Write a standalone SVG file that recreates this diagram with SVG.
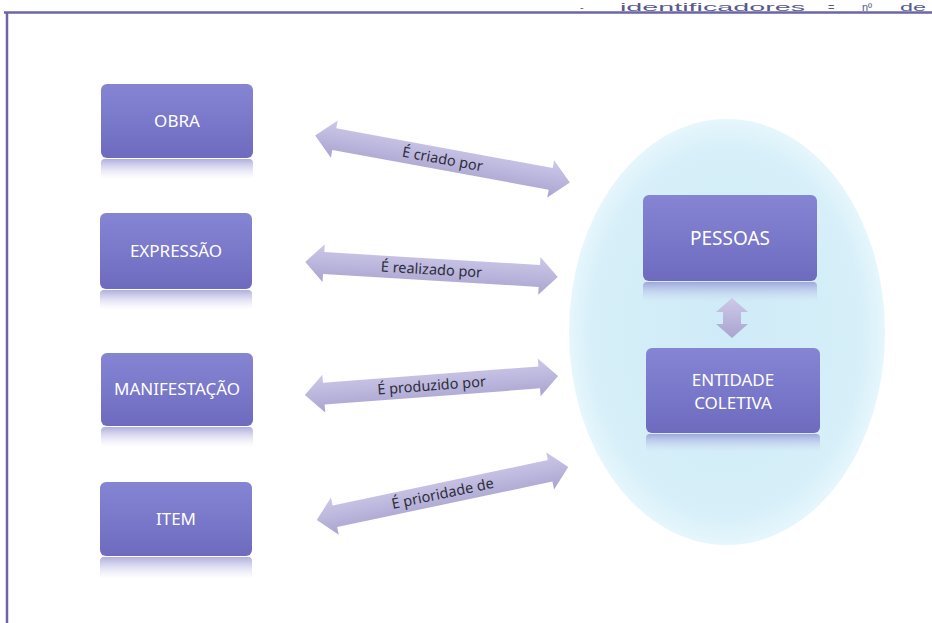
<svg xmlns="http://www.w3.org/2000/svg" width="932" height="623" viewBox="0 0 932 623">
<defs>
<linearGradient id="boxg" x1="0" y1="0" x2="0" y2="1">
<stop offset="0" stop-color="#8585d4"/>
<stop offset="1" stop-color="#6e6bbf"/>
</linearGradient>
<linearGradient id="refl" x1="0" y1="0" x2="0" y2="1">
<stop offset="0" stop-color="#7a78c8" stop-opacity="0.6"/>
<stop offset="1" stop-color="#c8c6ec" stop-opacity="0"/>
</linearGradient>
<linearGradient id="arrg" x1="0" y1="0" x2="0" y2="1">
<stop offset="0" stop-color="#cdc9e9"/>
<stop offset="1" stop-color="#aaa4d0"/>
</linearGradient>
<radialGradient id="ellg" cx="0.5" cy="0.5" r="0.5">
<stop offset="0" stop-color="#cfebf7"/>
<stop offset="0.85" stop-color="#d6eff9"/>
<stop offset="1" stop-color="#e6f6fc"/>
</radialGradient>
<style>
.box{fill:url(#boxg);}
.refl{fill:url(#refl);}
.lbl{font-family:"Noto Sans","Open Sans",sans-serif;font-size:17px;fill:#ffffff;text-anchor:middle;}
.arr{fill:url(#arrg);}
.alb{font-family:"Noto Sans","Open Sans",sans-serif;font-size:14.5px;fill:#2e2e3a;text-anchor:middle;}
.frame{stroke:#6c66a8;stroke-width:2.5;fill:none;}
.top{font-family:"Liberation Sans",sans-serif;font-size:11px;fill:#5a5a8a;}
</style>
</defs>
<rect width="932" height="623" fill="#ffffff"/>
<text class="top" y="10.5"><tspan x="580">-</tspan><tspan x="620" textLength="185" lengthAdjust="spacingAndGlyphs">identificadores</tspan><tspan x="828">=</tspan><tspan x="862">nº</tspan><tspan x="900" textLength="26" lengthAdjust="spacingAndGlyphs">de</tspan></text>
<path class="frame" d="M4,12.5 H932 M7,12.5 V623"/>

<g id="ellipse-group">
<ellipse cx="727" cy="332" rx="158" ry="213" fill="url(#ellg)"/>
</g>

<g id="connectors">
<g transform="translate(442.5,159) rotate(10.4)">
<path class="arr" d="M-129.5,0 L-110,-19 L-110,-11 L110,-11 L110,-19 L129.5,0 L110,19 L110,11 L-110,11 L-110,19 Z"/>
<text class="alb" x="0" y="5">É criado por</text>
</g>
<g transform="translate(431.5,269.5) rotate(3.4)">
<path class="arr" d="M-126.5,0 L-108,-19 L-108,-11 L108,-11 L108,-19 L126.5,0 L108,19 L108,11 L-108,11 L-108,19 Z"/>
<text class="alb" x="0" y="5">É realizado por</text>
</g>
<g transform="translate(431.5,385.5) rotate(-4.3)">
<path class="arr" d="M-127,0 L-108,-19 L-108,-11 L108,-11 L108,-19 L127,0 L108,19 L108,11 L-108,11 L-108,19 Z"/>
<text class="alb" x="0" y="5">É produzido por</text>
</g>
<g transform="translate(442.5,493.5) rotate(-11.9)">
<path class="arr" d="M-128.5,0 L-110,-19 L-110,-11 L110,-11 L110,-19 L128.5,0 L110,19 L110,11 L-110,11 L-110,19 Z"/>
<text class="alb" x="0" y="5">É prioridade de</text>
</g>
<path class="arr" d="M732,298 L748,312 L741,312 L741,324 L748,324 L732,338 L716,324 L723,324 L723,312 L716,312 Z"/>
</g>

<g id="obra">
<rect class="refl" x="101" y="159" width="152" height="20" rx="4"/>
<rect class="box" x="101" y="84" width="152" height="74" rx="6"/>
<text class="lbl" x="177" y="127">OBRA</text>
</g>
<g id="expressao">
<rect class="refl" x="100" y="290" width="152" height="20" rx="4"/>
<rect class="box" x="100" y="213" width="152" height="76" rx="6"/>
<text class="lbl" x="176" y="257">EXPRESSÃO</text>
</g>
<g id="manifestacao">
<rect class="refl" x="101" y="427" width="152" height="20" rx="4"/>
<rect class="box" x="101" y="353" width="152" height="73" rx="6"/>
<text class="lbl" x="177" y="395">MANIFESTAÇÃO</text>
</g>
<g id="item">
<rect class="refl" x="100" y="557" width="152" height="22" rx="4"/>
<rect class="box" x="100" y="482" width="152" height="74" rx="6"/>
<text class="lbl" x="176" y="525">ITEM</text>
</g>
<g id="pessoas">
<rect class="refl" x="643" y="282" width="174" height="20" rx="4"/>
<rect class="box" x="643" y="195" width="174" height="86" rx="6"/>
<text class="lbl" x="730" y="245" style="font-size:19px">PESSOAS</text>
</g>
<g id="entidade-coletiva">
<rect class="refl" x="646" y="434" width="174" height="18" rx="4"/>
<rect class="box" x="646" y="348" width="174" height="85" rx="6"/>
<text class="lbl" x="733" y="386">ENTIDADE</text>
<text class="lbl" x="733" y="409">COLETIVA</text>
</g>
</svg>
